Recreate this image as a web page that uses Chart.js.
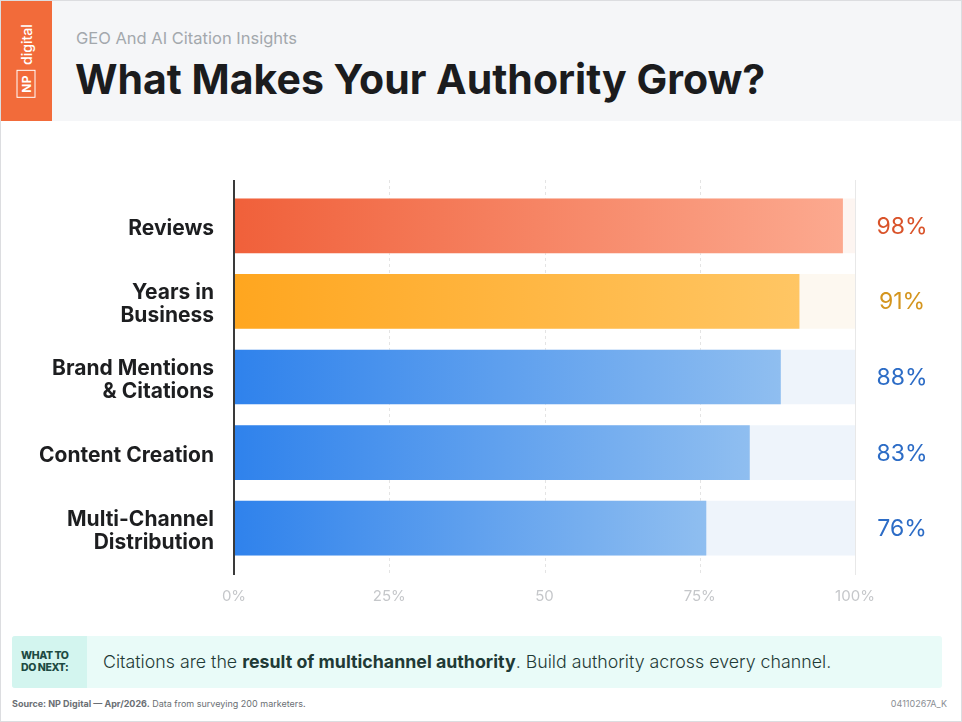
<!DOCTYPE html>
<html>
<head>
<meta charset="utf-8">
<script src="https://cdn.jsdelivr.net/npm/chart.js@4"></script>
<style>
  body { margin: 0; background: #fff; font-family: Inter, "Noto Sans", sans-serif; }
  #page { position: relative; width: 960px; height: 720px; border: 1px solid #dcdde0; overflow: hidden; background: #fff; }
  #head { position: absolute; left: 0; top: 0; width: 960px; height: 120px; background: #f5f6f8; }
  #logo { position: absolute; left: 0; top: 0; width: 51px; height: 120px; background: #f26b3a; }
  #logo .rot { position: absolute; left: 25px; top: 60px; transform: translate(-50%, -50%) rotate(-90deg);
    display: flex; align-items: center; gap: 5px; color: #fff; white-space: nowrap; }
  #logo .np { border: 1.5px solid #fff; font-weight: 700; font-size: 12px; padding: 1px 4px; letter-spacing: 0.5px; }
  #logo .dg { font-size: 14px; font-weight: 500; }
  #sub { position: absolute; left: 75px; top: 27px; font-size: 16.5px; color: #a3a8ad; font-weight: 400; }
  #title { position: absolute; left: 74px; top: 53px; font-size: 41px; font-weight: 700; color: #1b1c1e; letter-spacing: 0px; }
  #chartBox { position: absolute; left: 0; top: 130px; width: 962px; height: 490px; }
  #note { position: absolute; left: 11px; top: 635px; width: 930px; height: 52px; background: #e9fbf8; border-radius: 3px; }
  #note .lab { position: absolute; left: 0; top: 0; width: 75px; height: 52px; background: #d3f5ef; border-radius: 3px 0 0 3px;
    font-size: 10.5px; font-weight: 800; color: #1d4a42; line-height: 12px; padding: 14px 0 0 9px; box-sizing: border-box; letter-spacing: -0.4px; }
  #note .txt { position: absolute; left: 91px; top: 15px; font-size: 17.8px; color: #1f3a36; font-weight: 300; white-space: nowrap; }
  #note .txt b { font-weight: 700; }
  #src { position: absolute; left: 11px; top: 697px; font-size: 9px; color: #6b6f74; }
  #src b { font-weight: 700; }
  #code { position: absolute; right: 14px; top: 697px; font-size: 9px; color: #8a8e93; }
</style>
</head>
<body>
<div id="page">
  <div id="head">
    <div id="logo"><div class="rot"><span class="np">NP</span><span class="dg">digital</span></div></div>
    <div id="sub">GEO And AI Citation Insights</div>
    <div id="title">What Makes Your Authority Grow?</div>
  </div>
  <div id="chartBox"><canvas id="chart"></canvas></div>
  <div id="note">
    <div class="lab">WHAT TO<br>DO NEXT:</div>
    <div class="txt">Citations are the <b>result of multichannel authority</b>. Build authority across every channel.</div>
  </div>
  <div id="src"><b>Source: NP Digital — Apr/2026.</b> Data from surveying 200 marketers.</div>
  <div id="code">04110267A_K</div>
</div>
<script>
const categories = [['Reviews'], ['Years in', 'Business'], ['Brand Mentions', '& Citations'], ['Content Creation'], ['Multi-Channel', 'Distribution']];
const shares = [98, 91, 88, 83, 76];
const trackValues = [100, 100, 100, 100, 100];
const tickLabels = ['0%', '25%', '50', '75%', '100%'];

const gradStart = ['#f0603a', '#ffa61f', '#2f82ec', '#2f82ec', '#2f82ec'];
const gradEnd = ['#fca98f', '#ffc664', '#8fbef0', '#8fbef0', '#8fbef0'];
const trackColors = ['#fdf5f1', '#fdf8f0', '#eef4fb', '#eef4fb', '#eef4fb'];
const valueColors = ['#d9532a', '#d4951e', '#2c6cc6', '#2c6cc6', '#2c6cc6'];

function barGradient(context) {
  const chart = context.chart;
  const i = context.dataIndex;
  if (!chart.chartArea || i === undefined) return gradStart[i || 0];
  const x = chart.scales.x;
  const g = chart.ctx.createLinearGradient(x.getPixelForValue(0), 0, x.getPixelForValue(shares[i]), 0);
  g.addColorStop(0, gradStart[i]);
  g.addColorStop(1, gradEnd[i]);
  return g;
}

// grid lines and axis line run a little past the bars
const gridPlugin = {
  id: 'grid',
  beforeDatasetsDraw(chart) {
    const { ctx, chartArea } = chart;
    const x = chart.scales.x;
    const top = chartArea.top - 8, bottom = chartArea.bottom + 9;
    ctx.save();
    [25, 50, 75].forEach(v => {
      const px = Math.round(x.getPixelForValue(v)) + 0.5;
      ctx.strokeStyle = '#e4e4e4';
      ctx.lineWidth = 1;
      ctx.setLineDash([3, 3]);
      ctx.beginPath(); ctx.moveTo(px, top); ctx.lineTo(px, bottom); ctx.stroke();
    });
    ctx.setLineDash([]);
    const p100 = Math.round(x.getPixelForValue(100)) + 0.5;
    ctx.strokeStyle = '#e8e8e8';
    ctx.beginPath(); ctx.moveTo(p100, top); ctx.lineTo(p100, bottom); ctx.stroke();
    ctx.restore();
  },
  afterDatasetsDraw(chart) {
    const { ctx, chartArea } = chart;
    const x = chart.scales.x;
    const p0 = x.getPixelForValue(0);
    ctx.save();
    ctx.strokeStyle = '#3a3a3a';
    ctx.lineWidth = 2;
    ctx.beginPath(); ctx.moveTo(p0, chartArea.top - 8); ctx.lineTo(p0, chartArea.bottom + 9); ctx.stroke();
    ctx.restore();
  }
};

const valuePlugin = {
  id: 'values',
  afterDatasetsDraw(chart) {
    const { ctx, chartArea } = chart;
    const meta = chart.getDatasetMeta(0);
    ctx.save();
    ctx.font = '400 23px Inter, sans-serif';
    ctx.textAlign = 'center';
    ctx.textBaseline = 'middle';
    meta.data.forEach((bar, i) => {
      ctx.fillStyle = valueColors[i];
      ctx.fillText(shares[i] + '%', chartArea.right + 47, bar.y + 1);
    });
    ctx.restore();
  }
};

new Chart(document.getElementById('chart'), {
  type: 'bar',
  data: {
    labels: categories,
    datasets: [
      { data: shares, backgroundColor: barGradient, barThickness: 54, grouped: false, borderWidth: 0 },
      { data: trackValues, backgroundColor: trackColors, barThickness: 54, grouped: false, borderWidth: 0 }
    ]
  },
  options: {
    indexAxis: 'y',
    responsive: true,
    maintainAspectRatio: false,
    animation: false,
    layout: { padding: { top: 57, right: 108, left: 0, bottom: 0 } },
    plugins: { legend: { display: false }, tooltip: { enabled: false } },
    scales: {
      x: {
        min: 0, max: 100,
        border: { display: false },
        grid: { display: false },
        afterFit: s => { s.height = 55; },
        afterBuildTicks: s => { s.ticks = [0, 25, 50, 75, 100].map(v => ({ value: v })); },
        ticks: {
          callback: (v, i) => tickLabels[i],
          color: '#c5c7ca',
          font: { family: 'Inter', size: 15 },
          padding: 13,
          maxRotation: 0
        }
      },
      y: {
        border: { display: false },
        grid: { display: false },
        afterFit: s => { s.width = 233; },
        ticks: {
          color: '#1d1e20',
          font: { family: 'Inter', size: 21, weight: '700', lineHeight: 1.1 },
          padding: 12,
          labelOffset: 3
        }
      }
    }
  },
  plugins: [gridPlugin, valuePlugin]
});
</script>
</body>
</html>
